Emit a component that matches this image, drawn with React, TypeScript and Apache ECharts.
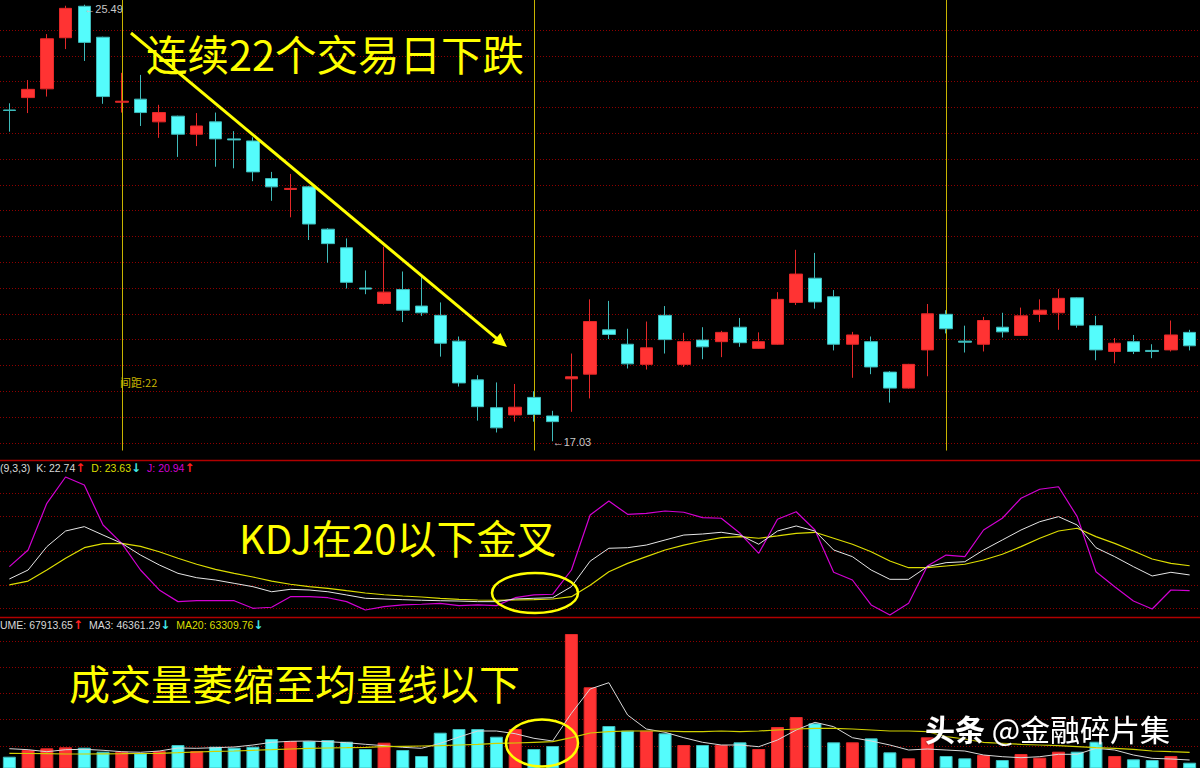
import React, { useEffect, useRef } from "react";
import * as echarts from "echarts";

// ---------- data ----------
const categories: string[] = Array.from({ length: 64 }, (_, i) => `D${i + 1}`);

// [open, close, low, high]
const candles: number[][] = [
  [23.45, 23.44, 23.03, 23.58], [23.69, 23.85, 23.39, 24.03], [23.86, 24.83, 23.71, 24.92], [24.85, 25.42, 24.63, 25.47],
  [25.46, 24.76, 24.40, 25.49], [24.86, 23.71, 23.57, 24.87], [23.60, 23.62, 23.40, 24.17], [23.66, 23.40, 23.14, 24.13],
  [23.22, 23.40, 22.91, 23.55], [23.33, 22.98, 22.54, 23.34], [22.98, 23.14, 22.75, 23.39], [23.22, 22.89, 22.35, 23.40],
  [22.89, 22.87, 22.32, 23.04], [22.85, 22.25, 22.07, 22.92], [22.12, 21.96, 21.69, 22.25], [21.91, 21.93, 21.37, 22.21],
  [21.96, 21.24, 20.93, 21.98], [21.14, 20.86, 20.49, 21.16], [20.78, 20.11, 19.99, 20.96], [20.00, 19.98, 19.88, 20.34],
  [19.70, 19.92, 19.68, 20.80], [19.97, 19.57, 19.34, 20.32], [19.65, 19.52, 19.46, 20.21], [19.47, 18.93, 18.67, 19.72],
  [18.97, 18.16, 18.09, 19.06], [18.22, 17.70, 17.43, 18.31], [17.68, 17.29, 17.20, 18.17], [17.54, 17.69, 17.41, 18.14],
  [17.88, 17.55, 17.41, 18.00], [17.52, 17.41, 17.03, 17.62], [18.24, 18.28, 17.60, 18.73], [18.33, 19.35, 17.86, 19.78],
  [19.19, 19.10, 19.01, 19.75], [18.91, 18.53, 18.44, 19.21], [18.52, 18.84, 18.42, 19.35], [19.47, 19.00, 18.73, 19.65],
  [18.52, 18.96, 18.47, 19.13], [18.99, 18.86, 18.62, 19.24], [18.96, 19.14, 18.66, 19.17], [19.24, 18.94, 18.86, 19.42],
  [18.83, 18.96, 18.82, 19.14], [18.91, 19.78, 18.90, 19.92], [19.72, 20.27, 19.67, 20.74], [20.19, 19.73, 19.60, 20.68],
  [19.83, 18.91, 18.79, 19.96], [18.91, 19.09, 18.26, 19.15], [18.96, 18.47, 18.33, 19.06], [18.37, 18.06, 17.78, 18.39],
  [18.06, 18.52, 18.05, 18.53], [18.80, 19.50, 18.29, 19.69], [19.49, 19.21, 19.12, 19.57], [18.97, 18.95, 18.75, 19.27],
  [18.91, 19.37, 18.77, 19.44], [19.24, 19.15, 19.04, 19.52], [19.08, 19.46, 19.07, 19.62], [19.49, 19.57, 19.34, 19.78],
  [19.52, 19.80, 19.19, 19.98], [19.81, 19.28, 19.23, 19.82], [19.27, 18.80, 18.60, 19.46], [18.77, 18.93, 18.54, 19.03],
  [18.96, 18.77, 18.72, 19.09], [18.79, 18.77, 18.64, 18.91], [18.80, 19.09, 18.77, 19.37], [19.14, 18.88, 18.79, 19.19],
];

const kValues: number[] = [
  25.5, 33.3, 53.6, 67.2, 71.0, 63.7, 56.5, 46.3, 37.7, 30.4, 26.6, 24.6, 21.7, 18.8, 14.4, 16.5, 15.9, 14.4, 11.6, 8.7,
  8.1, 7.5, 7.0, 6.6, 6.3, 5.8, 5.8, 8.1, 8.7, 9.2, 18.8, 41.0, 52.2, 52.7, 55.0, 59.4, 63.7, 64.6, 66.1, 63.7,
  55.7, 67.2, 71.6, 67.2, 50.7, 44.9, 33.3, 25.2, 25.2, 36.2, 39.7, 40.5, 50.7, 59.4, 68.1, 75.3, 79.7, 72.4, 52.7, 44.9,
  36.2, 28.1, 31.3, 29.0,
];
const dValues: number[] = [
  20.3, 23.7, 33.3, 43.5, 52.7, 56.2, 56.5, 53.9, 49.2, 43.5, 38.3, 33.9, 30.4, 27.2, 23.7, 20.9, 18.8, 17.4, 15.3, 13.3,
  11.8, 10.7, 9.8, 8.7, 7.8, 7.2, 7.0, 7.2, 7.5, 8.1, 10.1, 20.0, 31.8, 39.1, 44.9, 50.7, 55.0, 58.5, 61.4, 62.3,
  60.9, 62.9, 65.2, 66.1, 60.9, 55.7, 49.2, 41.1, 35.3, 35.3, 36.8, 38.3, 42.0, 47.0, 53.6, 60.9, 67.2, 69.6, 62.3, 56.5,
  49.8, 42.9, 39.1, 37.0,
];
const jValues: number[] = [
  36.2, 50.7, 91.3, 114.2, 107.2, 72.4, 56.5, 33.3, 16.0, 5.8, 6.6, 6.6, 6.6, 0.0, 0.9, 10.1, 10.1, 9.2, 5.8, -1.5,
  1.4, 2.9, 3.5, 4.3, 2.3, 2.9, 2.3, 9.2, 11.6, 12.2, 33.3, 81.1, 93.3, 81.7, 82.6, 84.6, 83.5, 78.8, 78.3, 65.2,
  47.8, 77.4, 84.0, 68.1, 31.3, 24.6, 2.9, -5.8, 4.3, 36.8, 46.3, 44.9, 68.1, 78.3, 95.7, 103.5, 105.7, 79.7, 31.8, 18.8,
  6.3, -0.6, 15.9, 15.3,
];

const volumes: number[] = [
  45900, 66000, 71100, 74100, 72900, 60900, 60900, 56100, 63000, 81000, 63000, 75900, 72900, 75900, 99000, 93000,
  93000, 96000, 90900, 69000, 87900, 66000, 48000, 117900, 129000, 129000, 105900, 129000, 69000, 78000, 414000, 254100,
  138000, 123900, 123900, 116100, 81000, 81000, 81000, 89100, 69000, 135000, 165000, 146100, 89100, 89100, 101100, 59100,
  41100, 104100, 48000, 41100, 51000, 36000, 54000, 42900, 60900, 60900, 90900, 48000, 38100, 36000, 48000, 27900,
];
const ma3Values: number[] = [
  69900, 66900, 60900, 66900, 68100, 65100, 60900, 59100, 63000, 72000, 71100, 72900, 75000, 81000, 89100, 92100,
  93000, 90900, 87900, 83100, 78900, 74100, 71100, 86100, 105000, 123000, 123000, 114900, 101100, 93000, 176100, 249000,
  267900, 171000, 129000, 119100, 102900, 89100, 81000, 81000, 75900, 96000, 126000, 149100, 135900, 102900, 93000, 81000,
  66000, 69000, 66000, 63000, 51000, 45900, 42900, 45900, 53100, 53100, 71100, 66000, 51000, 41100, 39000, 36000,
];
const ma20Values: number[] = [
  56100, 55500, 54900, 54000, 54000, 54600, 54900, 55500, 56100, 57900, 60000, 62100, 63000, 65100, 66900, 69000,
  71100, 72000, 72900, 74100, 75900, 77100, 78000, 78900, 81000, 83100, 86100, 87000, 89100, 90900, 102900, 117000,
  120900, 123000, 123000, 123000, 120900, 120900, 123000, 120900, 123000, 126000, 129000, 131100, 131100, 129000, 126000, 123000,
  123000, 120900, 105900, 99000, 89100, 86100, 83100, 81000, 78900, 75900, 72900, 71100, 68100, 63000, 60900, 59100,
];

const priceGridLevels: number[] = [17, 17.5, 18, 18.5, 19, 19.5, 20, 20.5, 21, 21.5, 22, 22.5, 23, 23.5, 24, 24.5, 25];
const kdjGridLevels: number[] = [0, 20, 50, 80, 100];
const volGridLevels: number[] = [78500, 157000, 235500, 314000, 392500];
const markerIndexes: number[] = [6, 28, 50];
const kdjHeader: string[] = ["(9,3,3)", "K: 22.74", "D: 23.63", "J: 20.94"];
const volHeader: string[] = ["UME: 67913.65", "MA3: 46361.29", "MA20: 63309.76"];
const spanLabel = "间距:22";

// ---------- styles ----------
const RED = "#FF3333";
const CYAN = "#54FCFC";
const RED_EDGE = "#E42828";
const CYAN_EDGE = "#3FBABA";
const GRID_RED = "#8E0000";
const YELLOW = "#FFFF00";
const MARK_YELLOW = "#C8B400";

function buildOption(): any {
  const highs = candles.map((c) => c[3]);
  const lows = candles.map((c) => c[2]);
  const hiIdx = highs.indexOf(Math.max(...highs));
  const loIdx = lows.indexOf(Math.min(...lows));
  const isUp = (i: number) => candles[i][1] > candles[i][0];

  const dotted = { color: GRID_RED, type: [1, 2], width: 1 };
  const hLine = (levels: number[]) => ({
    silent: true,
    symbol: ["none", "none"],
    label: { show: false },
    lineStyle: dotted,
    z: 1,
    data: levels.map((v) => ({ yAxis: v })),
  });

  const headerFont = "Liberation Sans";
  const richBase = { fontSize: 10.5, fontFamily: headerFont };
  const arrowBase = { fontSize: 12, fontFamily: "DejaVu Sans", fontWeight: "bold" };
  const headerRich = {
    w: { ...richBase, fill: "#D8D8D8" },
    y: { ...richBase, fill: "#DCDC00" },
    m: { ...richBase, fill: "#D200D2" },
    s: { ...richBase, fill: "#D8D8D8", width: 6 },
    r: { ...arrowBase, fill: "#FF2020" },
    c: { ...arrowBase, fill: "#40E8E8" },
  };
  const headerText = (text: string, x: number, y: number) => ({
    type: "text",
    x,
    y,
    z: 100,
    style: {
      text,
      fill: "#D8D8D8",
      fontSize: 10.5,
      fontFamily: headerFont,
      verticalAlign: "middle",
      textVerticalAlign: "middle",
      rich: headerRich,
    },
  });
  const bigText = (text: string, x: number, y: number, size: number, fill: string) => ({
    type: "text",
    x,
    y,
    z: 100,
    style: {
      text,
      fill,
      fontSize: size,
      fontFamily: "Noto Sans CJK SC",
      verticalAlign: "middle",
      textVerticalAlign: "middle",
    },
  });

  // arrow geometry
  const ax1 = 131, ay1 = 33, tipX = 507, tipY = 347;
  const len = Math.hypot(tipX - ax1, tipY - ay1);
  const ux = (tipX - ax1) / len, uy = (tipY - ay1) / len;
  const bx = tipX - 14 * ux, by = tipY - 14 * uy;
  const nx = -uy * 6.5, ny = ux * 6.5;

  return {
    animation: false,
    backgroundColor: "#000000",
    grid: [
      { left: 0, width: 1199, top: 0, height: 460, outerBoundsMode: "none" },
      { left: 0, width: 1199, top: 460, height: 157, outerBoundsMode: "none" },
      { left: 0, width: 1199, top: 617, height: 151, outerBoundsMode: "none" },
    ],
    xAxis: [0, 1, 2].map((g) => ({
      type: "category",
      gridIndex: g,
      data: categories,
      boundaryGap: true,
      show: false,
    })),
    yAxis: [
      { type: "value", gridIndex: 0, min: 16.6667, max: 25.5814, show: false },
      { type: "value", gridIndex: 1, min: -7.57, max: 128.96, show: false },
      { type: "value", gridIndex: 2, min: 12000, max: 465000, show: false },
    ],
    series: [
      {
        type: "line",
        xAxisIndex: 0,
        yAxisIndex: 0,
        data: [],
        z: 1,
        silent: true,
        markLine: { ...hLine(priceGridLevels) },
      },
      {
        type: "line",
        xAxisIndex: 0,
        yAxisIndex: 0,
        data: [],
        z: 1,
        silent: true,
        markLine: {
          silent: true,
          symbol: ["none", "none"],
          label: { show: false },
          lineStyle: { color: MARK_YELLOW, type: "solid", width: 1 },
          z: 1,
          data: markerIndexes.map((i) => [
            { coord: [categories[i], 25.5814] },
            { coord: [categories[i], 16.85] },
          ]),
        },
      },
      {
        type: "candlestick",
        xAxisIndex: 0,
        yAxisIndex: 0,
        data: candles,
        barWidth: 13,
        z: 3,
        itemStyle: {
          color: RED,
          color0: CYAN,
          borderColor: RED_EDGE,
          borderColor0: CYAN_EDGE,
          borderWidth: 1,
        },
        markPoint: {
          symbol: "circle",
          symbolSize: 0,
          silent: true,
          label: {
            show: true,
            position: "right",
            distance: 0,
            color: "#C8C8C8",
            fontSize: 11,
            fontFamily: headerFont,
            formatter: (p: any) => `←${p.value.toFixed(2)}`,
          },
          data: [
            { coord: [categories[hiIdx], highs[hiIdx]], value: highs[hiIdx], label: { offset: [0, 4] } },
            { coord: [categories[loIdx], lows[loIdx]], value: lows[loIdx], label: { offset: [0, 1] } },
          ],
        },
      },
      // KDJ
      {
        type: "line",
        xAxisIndex: 1,
        yAxisIndex: 1,
        data: [],
        z: 1,
        silent: true,
        markLine: { ...hLine(kdjGridLevels) },
      },
      {
        name: "D",
        type: "line",
        xAxisIndex: 1,
        yAxisIndex: 1,
        data: dValues,
        symbol: "none",
        z: 3,
        lineStyle: { color: "#DCDC00", width: 1.2 },
      },
      {
        name: "K",
        type: "line",
        xAxisIndex: 1,
        yAxisIndex: 1,
        data: kValues,
        symbol: "none",
        z: 4,
        lineStyle: { color: "#E6E6E6", width: 1 },
      },
      {
        name: "J",
        type: "line",
        xAxisIndex: 1,
        yAxisIndex: 1,
        data: jValues,
        symbol: "none",
        z: 3,
        lineStyle: { color: "#D200D2", width: 1.2 },
      },
      // Volume
      {
        type: "line",
        xAxisIndex: 2,
        yAxisIndex: 2,
        data: [],
        z: 1,
        silent: true,
        markLine: { ...hLine(volGridLevels) },
      },
      {
        type: "bar",
        xAxisIndex: 2,
        yAxisIndex: 2,
        barWidth: 13,
        z: 3,
        data: volumes.map((v, i) => ({
          value: v,
          itemStyle: {
            color: isUp(i) ? RED : CYAN,
            borderColor: isUp(i) ? RED_EDGE : CYAN_EDGE,
            borderWidth: 1,
          },
        })),
      },
      {
        name: "MA3",
        type: "line",
        xAxisIndex: 2,
        yAxisIndex: 2,
        data: ma3Values,
        symbol: "none",
        z: 4,
        lineStyle: { color: "#D8D8D8", width: 1 },
      },
      {
        name: "MA20",
        type: "line",
        xAxisIndex: 2,
        yAxisIndex: 2,
        data: ma20Values,
        symbol: "none",
        z: 4,
        lineStyle: { color: "#D0D000", width: 1.2 },
      },
    ],
    graphic: [
      // panel separators
      { type: "line", z: 90, shape: { x1: 0, y1: 460.5, x2: 1200, y2: 460.5 }, style: { stroke: "#B00000", lineWidth: 1.5 } },
      { type: "line", z: 90, shape: { x1: 0, y1: 617.5, x2: 1200, y2: 617.5 }, style: { stroke: "#B00000", lineWidth: 1.5 } },
      // headers
      headerText(
        `{w|${kdjHeader[0]}  ${kdjHeader[1]}}{r|↑}{s| }{y|${kdjHeader[2]}}{c|↓}{s| }{m|${kdjHeader[3]}}{r|↑}`,
        0,
        468
      ),
      headerText(
        `{w|${volHeader[0]}}{r|↑}{s| }{w|${volHeader[1]}}{c|↓}{s| }{y|${volHeader[2]}}{c|↓}`,
        0,
        625
      ),
      // span label
      bigText(spanLabel, 120, 382, 11, MARK_YELLOW),
      // annotations
      {
        type: "line",
        z: 100,
        shape: { x1: ax1, y1: ay1, x2: bx + ux * 2, y2: by + uy * 2 },
        style: { stroke: YELLOW, lineWidth: 3 },
      },
      {
        type: "polygon",
        z: 100,
        shape: { points: [[tipX, tipY], [bx + nx, by + ny], [bx - nx, by - ny]] },
        style: { fill: YELLOW },
      },
      bigText("连续22个交易日下跌", 146, 53, 41.5, YELLOW),
      bigText("KDJ在20以下金叉", 239, 537, 40, YELLOW),
      bigText("成交量萎缩至均量线以下", 69, 682, 41, YELLOW),
      {
        type: "ellipse",
        z: 100,
        shape: { cx: 535, cy: 593, rx: 43, ry: 20 },
        style: { fill: "none", stroke: YELLOW, lineWidth: 2.5 },
      },
      {
        type: "ellipse",
        z: 100,
        shape: { cx: 542, cy: 743, rx: 36, ry: 23.5 },
        style: { fill: "none", stroke: YELLOW, lineWidth: 2.5 },
      },
      // watermark
      {
        type: "text",
        x: 925,
        y: 728,
        z: 100,
        style: {
          text: "{b|头条} {n|@金融碎片集}",
          fill: "#FFFFFF",
          verticalAlign: "middle",
          textVerticalAlign: "middle",
          fontSize: 30,
          fontFamily: "Noto Sans CJK SC",
          textShadowColor: "rgba(0,0,0,0.8)",
          textShadowBlur: 3,
          rich: {
            b: { fill: "#FFFFFF", fontSize: 30, fontWeight: "bold", fontFamily: "Noto Sans CJK SC" },
            n: { fill: "#FFFFFF", fontSize: 30, fontFamily: "Noto Sans CJK SC" },
          },
        },
      },
    ],
  };
}

export default function App() {
  const ref = useRef<HTMLDivElement>(null);
  useEffect(() => {
    document.body.style.margin = "0";
    document.body.style.background = "#000";
    const chart = echarts.init(ref.current as HTMLDivElement, null, { renderer: "svg" });
    chart.setOption(buildOption());
    return () => {
      chart.dispose();
    };
  }, []);
  return <div ref={ref} style={{ width: 1200, height: 768, background: "#000" }} />;
}
